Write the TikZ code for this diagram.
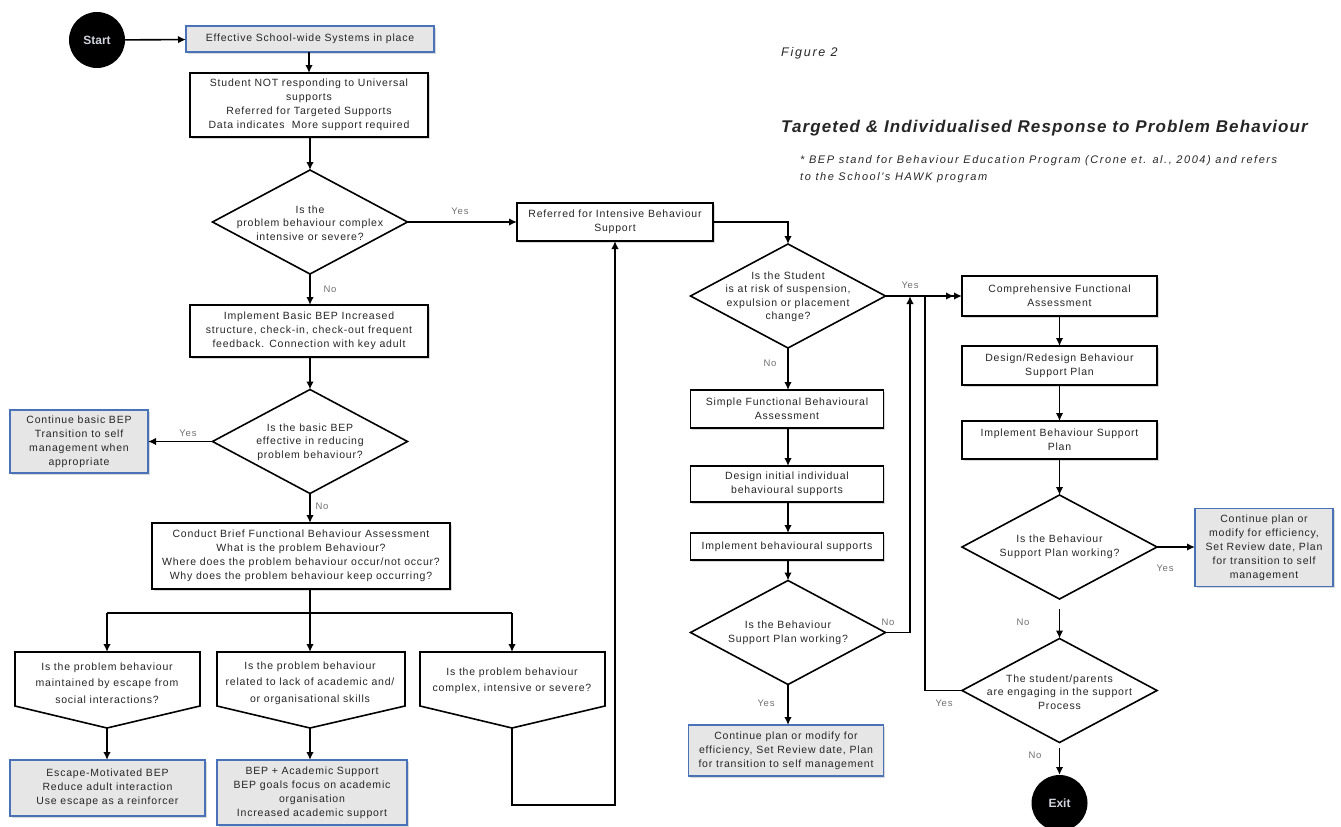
\documentclass[tikz,border=0pt]{standalone}
\usepackage{fontspec}
\setmainfont{Liberation Sans}
\newfontfamily\boxfont{Liberation Sans}[LetterSpace=7.5]
\newfontfamily\titlefont{Liberation Sans}[LetterSpace=6.5]
\newfontfamily\footfont{Liberation Sans}[LetterSpace=14]
\newfontfamily\lblfont{Liberation Sans}[LetterSpace=8]
\usetikzlibrary{arrows.meta,shapes.geometric,shadows}
\definecolor{boxblue}{HTML}{4A72B8}
\definecolor{boxgray}{HTML}{E6E6E6}
\definecolor{txt}{HTML}{262626}
\definecolor{lbl}{HTML}{707070}
\definecolor{termtxt}{HTML}{D0D4DC}
\tikzset{
  ln/.style={line width=1.6pt, draw=black},
  arr/.style={ln, -{Latex[length=8pt,width=7.5pt]}},
  darr/.style={ln, -{Latex[length=8pt,width=7.5pt]Latex[length=8pt,width=7.5pt]}},
  boxbase/.style={rectangle, line width=1.6pt, align=center, inner sep=2pt, outer sep=0pt,
     font=\boxfont\fontsize{10.5}{14}\selectfont, text=txt,
     drop shadow={opacity=0.3, shadow xshift=1.5pt, shadow yshift=-1.5pt}},
  wbox/.style={boxbase, draw=black, fill=white},
  bbox/.style={boxbase, draw=boxblue, fill=boxgray},
  dia/.style={diamond, draw=black, line width=1.6pt, fill=white, inner sep=0pt, outer sep=0pt,
     minimum width=195pt, minimum height=104pt},
  dtext/.style={align=center, font=\boxfont\fontsize{10.5}{13.5}\selectfont, text=txt, inner sep=0pt},
  ptext/.style={align=center, font=\boxfont\fontsize{10.5}{16.5}\selectfont, text=txt, inner sep=0pt},
  lab/.style={font=\lblfont\fontsize{9.5}{10}\selectfont, text=lbl, inner sep=0pt},
  term/.style={circle, fill=black, minimum size=56pt, inner sep=0pt, outer sep=0pt,
     text=termtxt, font=\fontsize{12}{13}\selectfont\bfseries},
  pent/.style={line width=1.6pt, draw=black, fill=white},
}
\begin{document}
\begin{tikzpicture}[x=1pt,y=-1pt]
\useasboundingbox (0,0) rectangle (1341,827);

% ---------- titles
\node[anchor=base west, inner sep=0pt, font=\footfont\fontsize{12.5}{14}\selectfont\itshape, text=txt] (fig) at (781,56) {Figure 2};
\node[anchor=base west, inner sep=0pt, font=\titlefont\fontsize{17}{19}\selectfont\bfseries\itshape, text=txt] (title) at (781,132) {Targeted \& Individualised Response to Problem Behaviour};
\node[anchor=north west, inner sep=0pt, align=left, font=\footfont\fontsize{11}{17.5}\selectfont\itshape, text=txt] (foot) at (800,155) {* BEP stand for Behaviour Education Program (Crone et. al., 2004) and refers\\to the School's HAWK program};

% ---------- left column
\node[term] (start) at (97,40) {Start};
\node[bbox, minimum width=248pt, minimum height=26pt] (b1) at (310,39) {Effective School-wide Systems in place};
\node[wbox, minimum width=238pt, minimum height=64pt] (b2) at (309,105) {Student NOT responding to Universal\\supports\\Referred for Targeted Supports\\Data indicates\ \ More support required};
\node[dia] (d1) at (310,222) {};
\node[dtext] (d1t) at (310,223) {Is the\\problem behaviour complex\\intensive or severe?};
\node[wbox, minimum width=238pt, minimum height=52pt] (b3) at (309,331) {Implement Basic BEP Increased\\structure, check-in, check-out frequent\\feedback. Connection with key adult};
\node[dia] (d2) at (310,441.5) {};
\node[dtext] (d2t) at (310,442) {Is the basic BEP\\effective in reducing\\problem behaviour?};
\node[bbox, minimum width=138pt, minimum height=63pt] (cb) at (79,441.5) {Continue basic BEP\\Transition to self\\management when\\appropriate};
\node[wbox, minimum width=298pt, minimum height=66pt] (b4) at (301,556) {Conduct Brief Functional Behaviour Assessment\\What is the problem Behaviour?\\Where does the problem behaviour occur/not occur?\\Why does the problem behaviour keep occurring?};

% pentagons
\draw[pent] (15,652) -- (200,652) -- (200,706) -- (107,728) -- (15,706) -- cycle;
\coordinate (p1top) at (107,652); \coordinate (p1b) at (107,728);
\node[ptext] (p1t) at (107,683) {Is the problem behaviour\\maintained by escape from\\social interactions?};
\draw[pent] (217,652) -- (405,652) -- (405,706) -- (310,728) -- (217,706) -- cycle;
\coordinate (p2top) at (310,652); \coordinate (p2b) at (310,728);
\node[ptext] (p2t) at (310,683) {Is the problem behaviour\\related to lack of academic and/\\or organisational skills};
\draw[pent] (420,652) -- (605,652) -- (605,706) -- (512,728) -- (420,706) -- cycle;
\coordinate (p3top) at (512,652); \coordinate (p3b) at (512,728);
\node[ptext] (p3t) at (512,681) {Is the problem behaviour\\complex, intensive or severe?};

\node[bbox, minimum width=195pt, minimum height=56pt] (e1) at (107.5,788) {Escape-Motivated BEP\\Reduce adult interaction\\Use escape as a reinforcer};
\node[bbox, minimum width=190pt, minimum height=65pt] (e2) at (312,792.5) {BEP + Academic Support\\BEP goals focus on academic\\organisation\\Increased academic support};

% ---------- middle column
\node[wbox, minimum width=196pt, minimum height=38pt] (ref) at (615,222) {Referred for Intensive Behaviour\\Support};
\node[dia] (d3) at (788,296) {};
\node[dtext] (d3t) at (788,297) {Is the Student\\is at risk of suspension,\\expulsion or placement\\change?};
\node[wbox, minimum width=193pt, minimum height=38pt] (s1) at (787,409) {Simple Functional Behavioural\\Assessment};
\node[wbox, minimum width=193pt, minimum height=36pt] (s2) at (787,484) {Design initial individual\\behavioural supports};
\node[wbox, minimum width=193pt, minimum height=27pt] (s3) at (787,546.5) {Implement behavioural supports};
\node[dia] (d4) at (788,632.5) {};
\node[dtext] (d4t) at (788,633) {Is the Behaviour\\Support Plan working?};
\node[bbox, minimum width=195pt, minimum height=51pt] (c1) at (786,750.5) {Continue plan or modify for\\efficiency, Set Review date, Plan\\for transition to self management};

% ---------- right column
\node[wbox, minimum width=195pt, minimum height=40pt] (r1) at (1059.5,296) {Comprehensive Functional\\Assessment};
\node[wbox, minimum width=195pt, minimum height=39pt] (r2) at (1059.5,365.5) {Design/Redesign Behaviour\\Support Plan};
\node[wbox, minimum width=195pt, minimum height=38pt] (r3) at (1059.5,440) {Implement Behaviour Support\\Plan};
\node[dia] (d5) at (1059.5,547) {};
\node[dtext] (d5t) at (1059.5,547) {Is the Behaviour\\Support Plan working?};
\node[bbox, minimum width=138pt, minimum height=78pt] (r4) at (1264,547.5) {Continue plan or\\modify for efficiency,\\Set Review date, Plan\\for transition to self\\management};
\node[dia] (d6) at (1059.5,690.5) {};
\node[dtext] (d6t) at (1059.5,692) {The student/parents\\are engaging in the support\\Process};
\node[term] (exit) at (1059.5,803) {Exit};

% ---------- connectors left
\draw[arr] (start) -- (b1);
\draw[arr] (b1.south -| b2) -- (b2);
\draw[arr] (b2.south -| d1) -- (d1.north);
\draw[arr] (d1.east) -- (d1.east -| ref.west);
\draw[arr] (d1.south) -- (d1.south |- b3.north);
\draw[arr] (b3.south -| d2) -- (d2.north);
\draw[arr] (d2.west) -- (d2.west -| cb.east);
\coordinate (br) at (310,613);
\draw[arr] (d2.south) -- (br |- b4.north);
\draw[ln] (br |- b4.south) -- (br);
\draw[ln] (p1top |- br) -- (p3top |- br);
\draw[arr] (p1top |- br) -- (p1top);
\draw[arr] (br) -- (p2top);
\draw[arr] (p3top |- br) -- (p3top);
\draw[arr] (p1b) -- (p1b |- e1.north);
\draw[arr] (p2b) -- (p2b |- e2.north);
\coordinate (lp) at (615,805);
\draw[arr] (p3b) |- (lp) -- (ref.south);

% ---------- connectors middle
\draw[arr] (ref.east) -| (d3.north);
\draw[darr] (d3.east) -- (r1.west);
\draw[arr] (d3.south) -- (d3.south |- s1.north);
\draw[arr] (s1.south -| d3) -- (d3 |- s2.north);
\draw[arr] (s2.south -| d3) -- (d3 |- s3.north);
\draw[arr] (s3.south -| d3) -- (d4.north);
\coordinate (j1) at (910,296);
\draw[arr] (d4.east) -| (j1);
\draw[arr] (d4.south) -- (d4.south |- c1.north);

% ---------- connectors right
\draw[arr] (r1.south) -- (r2.north);
\draw[arr] (r2.south) -- (r3.north);
\draw[arr] (r3.south) -- (d5.north);
\draw[arr] (d5.east) -- (d5.east -| r4.west);
\draw[arr] ([yshift=-10pt]d5.south) -- (d6.north);
\coordinate (j2) at (925,296);
\draw[ln] (d6.west) -| (j2);
\draw[arr] ([yshift=-5pt]d6.south) -- (exit.north);

% ---------- labels
\node[lab] (l1) at (460,211) {Yes};
\node[lab] (l2) at (330,289) {No};
\node[lab] (l3) at (188,433) {Yes};
\node[lab] (l4) at (322,506) {No};
\node[lab] (l5) at (910,285) {Yes};
\node[lab] (l6) at (770,363) {No};
\node[lab] (l7) at (888,622) {No};
\node[lab] (l8) at (766,703) {Yes};
\node[lab] (l9) at (1165,568) {Yes};
\node[lab] (l10) at (1023,622) {No};
\node[lab] (l11) at (944,703) {Yes};
\node[lab] (l12) at (1035,755) {No};
\end{tikzpicture}
\end{document}
